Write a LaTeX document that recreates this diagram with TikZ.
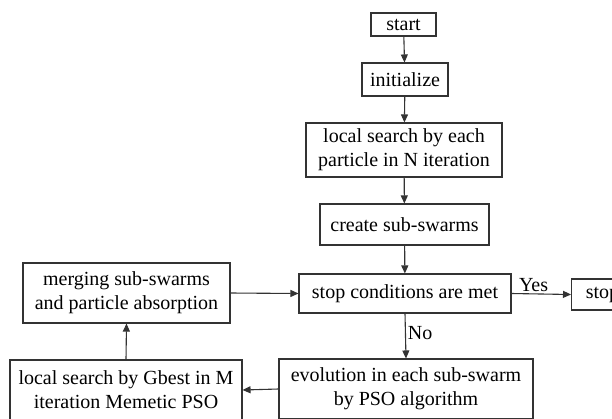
\documentclass[tikz,border=0pt]{standalone}
\usepackage{fontspec}
\setmainfont{Liberation Serif}
\usetikzlibrary{arrows.meta}

\begin{document}
\begin{tikzpicture}[x=1pt,y=-1pt,
	box/.style={draw=black!80,line width=1.1pt,align=center,inner sep=0pt,
		font=\fontsize{20}{24}\selectfont},
	flow/.style={draw=black!80,line width=1.1pt,-{Triangle[length=8pt,width=7pt]}},
	lbl/.style={font=\fontsize{20}{24}\selectfont,inner sep=2pt}]
	\useasboundingbox (0,0) rectangle (612,418);

	\node[box,minimum width=65pt,minimum height=23pt]  (start)  at (403.5,24.5) {start};
	\node[box,minimum width=86pt,minimum height=33pt]  (init)   at (405,79.5)   {initialize};
	\node[box,minimum width=196pt,minimum height=54pt] (lsN)    at (404,150)    {local search by each\\particle in N iteration};
	\node[box,minimum width=169pt,minimum height=41pt] (create) at (404.5,224.5) {create sub-swarms};
	\node[box,minimum width=212pt,minimum height=39pt] (stopc)  at (405,293.5)  {stop conditions are met};
	\node[box,minimum width=62pt,minimum height=31pt,anchor=west] (stop) at (571,294.5) {stop};
	\node[box,minimum width=207pt,minimum height=60pt] (merge)  at (126.5,293)  {merging sub-swarms\\and particle absorption};
	\node[box,minimum width=232pt,minimum height=60pt] (gbest)  at (126,390)    {local search by Gbest in M\\iteration Memetic PSO};
	\node[box,minimum width=254pt,minimum height=60pt] (evol)   at (406,389)    {evolution in each sub-swarm\\by PSO algorithm};

	% main column
	\draw[flow] (start) -- (init);
	\draw[flow] (init) -- (lsN);
	\draw[flow] (lsN) -- (create);
	\draw[flow] (create) -- (stopc);
	\draw[flow] (stopc.east) -- node[lbl,above,pos=0.37] (yes) {Yes} (stop.west);
	\draw[flow] (stopc.south) -- node[lbl,right,pos=0.43] (no) {No} (evol.north);

	% loop back
	\draw[flow] (evol.west) -- (gbest.east);
	\draw[flow] (gbest.north) -- (merge.south);
	\draw[flow] (merge.east) -- (stopc.west);
\end{tikzpicture}
\end{document}
